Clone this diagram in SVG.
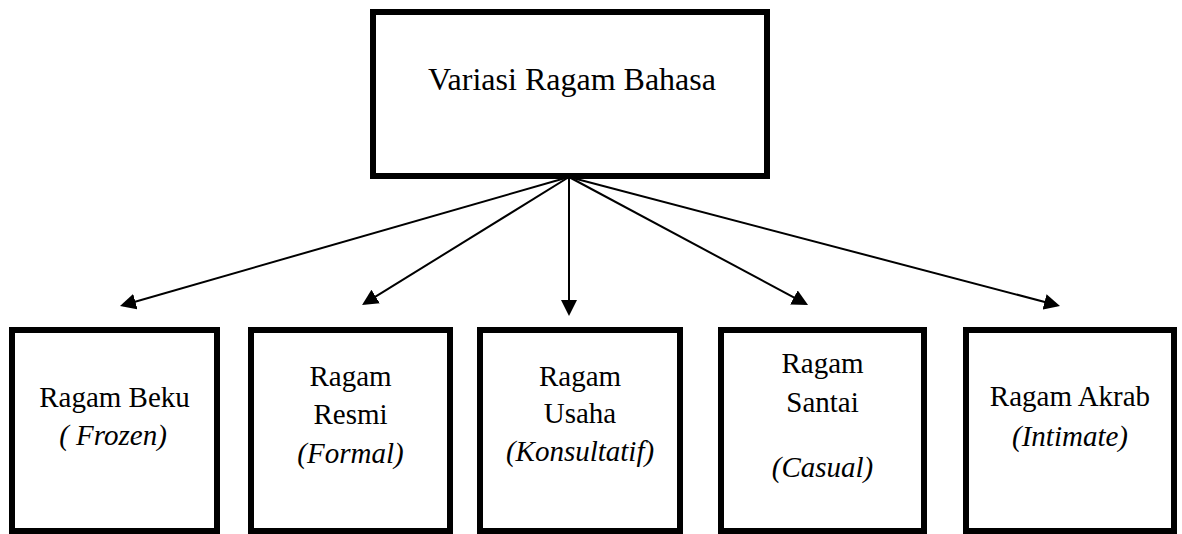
<svg xmlns="http://www.w3.org/2000/svg" width="1182" height="534" viewBox="0 0 1182 534">
  <style>
    .box { fill: #ffffff; stroke: #000000; stroke-width: 6; }
    .t { font-family: "Liberation Serif", "Times New Roman", serif; fill: #000000; text-anchor: middle; }
    .main { font-size: 32px; }
    .lbl { font-size: 29px; }
    .it { font-style: italic; }
    .conn line { stroke: #000000; stroke-width: 2; fill: none; marker-end: url(#arrow); }
  </style>
  <defs>
    <marker id="arrow" viewBox="0 0 16 16" markerWidth="16" markerHeight="16" markerUnits="userSpaceOnUse" refX="13" refY="8" orient="auto">
      <path d="M0,0 L16,8 L0,16 z" fill="#000000"/>
    </marker>
  </defs>
  <rect width="1182" height="534" fill="#ffffff"/>

  <g id="connectors" class="conn">
    <line x1="569" y1="177" x2="122.9" y2="305.2"/>
    <line x1="569" y1="177" x2="364.6" y2="303.4"/>
    <line x1="569" y1="177" x2="569" y2="313"/>
    <line x1="569" y1="177" x2="805.4" y2="303.6"/>
    <line x1="569" y1="177" x2="1057.1" y2="305.2"/>
  </g>

  <g id="node-root">
    <rect class="box" x="373" y="12" width="394" height="164"/>
    <text class="t main" x="572" y="90">Variasi Ragam Bahasa</text>
  </g>

  <g id="node-beku">
    <rect class="box" x="12" y="330" width="205" height="201"/>
    <text class="t lbl" x="114.5" y="407">Ragam Beku</text>
    <text class="t lbl it" x="113" y="445">( Frozen)</text>
  </g>

  <g id="node-resmi">
    <rect class="box" x="251" y="330" width="199" height="201"/>
    <text class="t lbl" x="350.5" y="386">Ragam</text>
    <text class="t lbl" x="350.5" y="424">Resmi</text>
    <text class="t lbl it" x="350.5" y="463">(Formal)</text>
  </g>

  <g id="node-usaha">
    <rect class="box" x="480" y="330" width="200" height="201"/>
    <text class="t lbl" x="580" y="386">Ragam</text>
    <text class="t lbl" x="580" y="423">Usaha</text>
    <text class="t lbl it" x="580" y="461">(Konsultatif)</text>
  </g>

  <g id="node-santai">
    <rect class="box" x="721" y="330" width="203" height="201"/>
    <text class="t lbl" x="822.5" y="373">Ragam</text>
    <text class="t lbl" x="822.5" y="412">Santai</text>
    <text class="t lbl it" x="822.5" y="477">(Casual)</text>
  </g>

  <g id="node-akrab">
    <rect class="box" x="966" y="330" width="208" height="201"/>
    <text class="t lbl" x="1070" y="406">Ragam Akrab</text>
    <text class="t lbl it" x="1070" y="446">(Intimate)</text>
  </g>
</svg>
